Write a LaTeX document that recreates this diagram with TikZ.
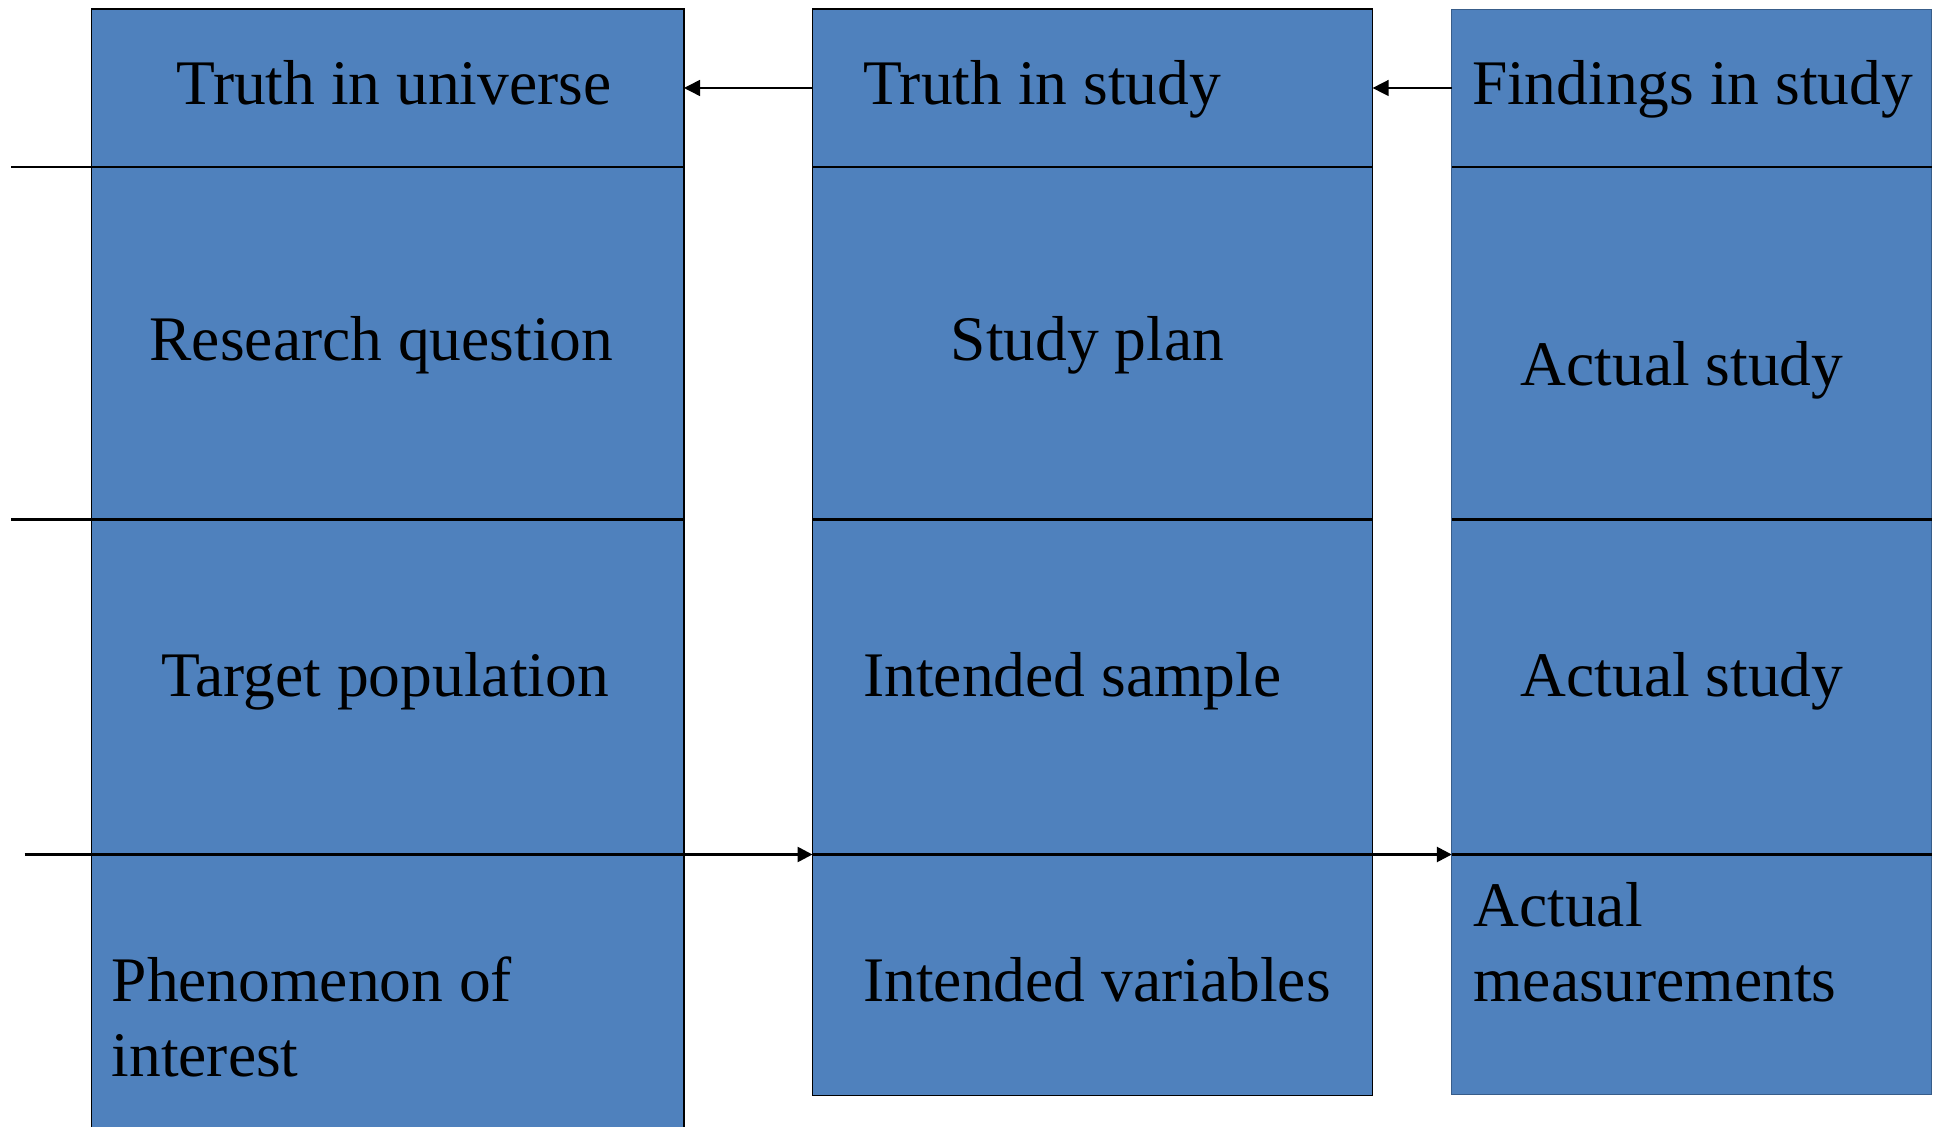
\documentclass[tikz,border=0pt]{standalone}
\usepackage{fontspec}
\setmainfont{Liberation Serif}
\usetikzlibrary{arrows.meta,fit}
\definecolor{cellblue}{HTML}{4F81BD}
\definecolor{celledge}{HTML}{385D8A}
\begin{document}
\begin{tikzpicture}[x=0.5pt,y=-0.5pt,
  cell/.style={fill=cellblue, draw=black, line width=0.7pt, inner sep=0pt, outer sep=0pt},
  plaincell/.style={fill=cellblue, draw=celledge, line width=0.4pt, inner sep=0pt, outer sep=0pt},
  divider/.style={line width=1.25pt},
  toparrow/.style={line width=0.75pt, -{Triangle[length=8pt,width=8pt]}},
  botarrow/.style={line width=1.3pt, -{Triangle[length=7.5pt,width=7.5pt]}},
  txt/.style={font=\fontsize{31.75}{37.5}\selectfont, inner sep=0pt, align=left}
]
\useasboundingbox (0,0) rectangle (1939,1127);

% universe column
\node[cell, fit={(91.5,9) (684,167)}] (u1) {};
\node[cell, fit={(91.5,167) (684,519.4)}] (u2) {};
\node[cell, fit={(91.5,519.4) (684,854.5)}] (u3) {};
\node[cell, fit={(91.5,854.5) (684,1140)}] (u4) {};

% study column
\node[cell, fit={(812.5,9) (1372.6,167)}] (s1) {};
\node[cell, fit={(812.5,167) (1372.6,519.4)}] (s2) {};
\node[cell, fit={(812.5,519.4) (1372.6,854.5)}] (s3) {};
\node[cell, fit={(812.5,854.5) (1372.6,1095.6)}] (s4) {};

% findings column
\node[plaincell, fit={(1451.8,9) (1931.6,167)}] (f1) {};
\node[plaincell, fit={(1451.8,167) (1931.6,519.4)}] (f2) {};
\node[plaincell, fit={(1451.8,519.4) (1931.6,854.5)}] (f3) {};
\node[plaincell, fit={(1451.8,854.5) (1931.6,1094.4)}] (f4) {};

% row dividers
\coordinate (stubA) at (11,167);
\coordinate (stubB) at (11,519.4);
\coordinate (stubC) at (24.7,854.5);
\draw[divider] (stubA) -- (u1.south east);
\draw[divider] (stubB) -- (u2.south east);
\draw[divider] (stubC) -- (u3.south east);
\draw[divider] (s1.south west) -- (s1.south east);
\draw[divider] (s2.south west) -- (s2.south east);
\draw[divider] (s3.south west) -- (s3.south east);
\draw[divider] (f1.south west) -- (f1.south east);
\draw[divider] (f2.south west) -- (f2.south east);
\draw[divider] (f3.south west) -- (f3.south east);

% arrows between columns
\draw[toparrow] (s1.west) -- (u1.east);
\draw[toparrow] (f1.west) -- (s1.east);
\draw[botarrow] (u3.south east) -- (s3.south west);
\draw[botarrow] (s3.south east) -- (f3.south west);

% texts (multi-line nodes sit on the baseline of their last line)
\node[txt, anchor=base] (tU) at (394,105) {Truth in universe};
\node[txt, anchor=base] (tRQ) at (381.5,361) {Research question};
\node[txt, anchor=base] (tTP) at (385,697) {Target population};
\node[txt, anchor=base west] (tPh) at (111.3,1076) {Phenomenon of\\interest};
\node[txt, anchor=base west] (tS) at (863,105) {Truth in study};
\node[txt, anchor=base] (tSP) at (1087.6,361) {Study plan};
\node[txt, anchor=base west] (tIS) at (863,697) {Intended sample};
\node[txt, anchor=base west] (tIV) at (863,1001.6) {Intended variables};
\node[txt, anchor=base west] (tF) at (1471.6,105) {Findings in study};
\node[txt, anchor=base] (tA1) at (1682,386) {Actual study};
\node[txt, anchor=base] (tA2) at (1682,697) {Actual study};
\node[txt, anchor=base west] (tAM) at (1473,1001.7) {Actual\\measurements};
\end{tikzpicture}
\end{document}
